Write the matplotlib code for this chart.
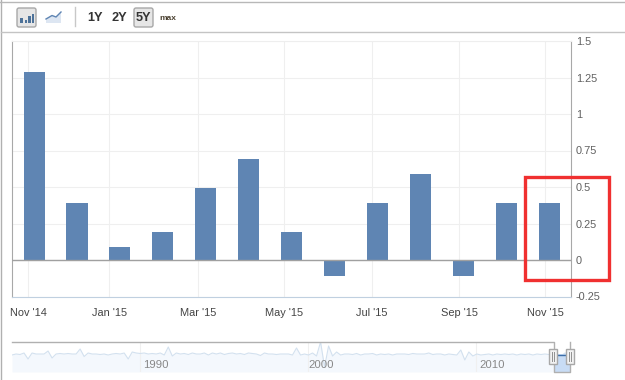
import matplotlib
matplotlib.use("Agg")
import matplotlib.pyplot as plt
from matplotlib.patches import Rectangle, FancyBboxPatch, Polygon
import numpy as np

plt.rcParams['font.family'] = ['Liberation Sans', 'DejaVu Sans']

W, H = 625, 380

# monthly change, Nov '14 to Nov '15
values = [1.29, 0.39, 0.09, 0.19, 0.49, 0.69, 0.19, -0.11, 0.39, 0.59, -0.11, 0.39, 0.39]
y_ticks = [-0.25, 0, 0.25, 0.5, 0.75, 1, 1.25, 1.5]
y_labels = ['-0.25', '0', '0.25', '0.5', '0.75', '1', '1.25', '1.5']
x_tick_pos = [-0.14, 1.75, 3.82, 5.82, 7.87, 9.9, 11.9]
x_labels = ["Nov '14", "Jan '15", "Mar '15", "May '15", "Jul '15", "Sep '15", "Nov '15"]

# navigator series, read by eye, one point every few pixels
nav_values = [0.2, 0.3, 0.25, 0.4, -0.2, 0.4, 0.3, 0.3, 0.3, 0.6, -0.1, 0.3, 0.35, 0.3, 0.35, 0.3,
              0.3, 0.8, 0.05, 0.4, 0.3, 0.3, 0.25, 0.3, 0.2, 0.3, 0.35, 0.3, 0.4, -0.2, 0.5, 0.4,
              0.35, 0.4, 0.3, 0.35, 0.3, 0.4, 0.2, 1.0, 0.1, 0.4, 0.3, 0.35, 0.25, 0.4, 0.3, 0.3,
              0.4, 0.2, 0.4, 0.3, 0.4, 0.25, 0.35, 0.4, 0.3, 0.35, 0.25, 0.4, 0.35, 0.3, 0.15, 0.4,
              0.3, 0.3, 0.25, 0.3, 0.3, 0.3, 0.2, 0.9, 0.2, 0.3, 0.2, 0.4, 0.1, 1.5, -1.0, 1.1,
              0.1, 0.5, 0.2, 0.3, 0.3, 0.25, 0.35, 0.2, 0.3, 0.3, 0.35, 0.2, 0.3, 0.25, 0.3, 0.2,
              0.3, 0.3, 0.3, 0.25, 0.35, 0.3, 0.3, 0.3, 0.4, 0.25, 0.3, 0.3, 0.2, 0.3, 0.25, 0.2,
              0.7, -0.3, 0.5, 0.1, 0.3, 0.2, 0.25, 0.3, 0.2, 0.3, 0.25, 0.3, 0.25, 0.3, 0.2, 0.3,
              0.25, 0.3, 0.2, 0.3, 0.25, 0.3, 0.25, 0.3, 0.3, 0.1, 0.4, 0.3]
nav_start, nav_end = 1982.4, 2015.5
nav_ticks = [1990, 2000, 2010]

fig = plt.figure(figsize=(W / 100, H / 100), dpi=100, facecolor='white')


def box(x0, y0, x1, y1):
    # pixel box, measured from the top left, to figure fractions
    return [x0 / W, 1 - y1 / H, (x1 - x0) / W, (y1 - y0) / H]


# main chart
ax = fig.add_axes(box(11.5, 41, 571, 296.5))
ax.set_xlim(-0.525, 12.5)
ax.set_ylim(-0.25, 1.5)
ax.bar(range(len(values)), values, width=0.49, color='#5f85b3', zorder=3)
ax.axhline(0, color='#a0a0a0', lw=1, zorder=4)
ax.set_yticks(y_ticks)
ax.set_yticklabels(y_labels)
ax.set_xticks(x_tick_pos)
ax.set_xticklabels(x_labels)
ax.yaxis.tick_right()
ax.grid(True, color='#efefef', lw=0.8, zorder=0)
ax.tick_params(axis='y', length=0, pad=3.5, labelsize=7.9, labelcolor='#606060')
ax.tick_params(axis='x', length=0, pad=8, labelsize=7.9, labelcolor='#444444')
for s in ['left', 'right']:
    ax.spines[s].set_color('#a8a8a8')
ax.spines['top'].set_color('#eeeeee')
ax.spines['bottom'].set_color('#c0d0e0')

# navigator
nav = fig.add_axes(box(12, 342, 569, 372))
nav_x = np.linspace(nav_start, nav_end, len(nav_values))
nav.fill_between(nav_x, -1.5, nav_values, color='#f4f8fd', lw=0)
nav.plot(nav_x, nav_values, color='#d3e1ef', lw=0.8)
nav.set_xlim(nav_start, nav_end)
nav.set_ylim(-1.5, 1.5)
nav.set_yticks([])
nav.set_xticks(nav_ticks)
nav.set_xticklabels([])
nav.grid(True, axis='x', color='#f0f0f0', lw=0.8)
nav.tick_params(length=0)
for s in nav.spines.values():
    s.set_visible(False)
for t, dx in zip(nav_ticks, [11.5, 9.5, 11.5]):
    nav.annotate(str(t), (t, 0), xycoords=('data', 'axes fraction'), xytext=(dx, 1.5),
                 textcoords='offset points', ha='center', va='bottom', fontsize=8.2, color='#888888')

# page furniture, in pixels
ov = fig.add_axes([0, 0, 1, 1], zorder=10)
ov.set_xlim(0, W)
ov.set_ylim(H, 0)
ov.axis('off')
ov.patch.set_alpha(0)

ov.plot([1, 1], [0, H], color='#b0b0b0', lw=1)
ov.plot([0, W], [1.5, 1.5], color='#b8b8b8', lw=1)
ov.plot([1, W], [31.5, 31.5], color='#c4c4c4', lw=1)
ov.plot([74.5, 74.5], [7, 26], color='#c8c8c8', lw=1)

for x0, x1 in [(17, 36), (134, 153)]:
    ov.add_patch(FancyBboxPatch((x0, 8), x1 - x0, 19, boxstyle='round,pad=0,rounding_size=2',
                                fc='#e6e6e6', ec='#a8a8a8', lw=1))
for x, top in [(20, 18), (24.5, 20), (28, 16), (31.5, 14)]:
    ov.add_patch(Rectangle((x, top), 2.8, 23 - top, fc='#4d7299', lw=0))
ov.add_patch(Polygon([(46, 23), (46, 19), (52, 15.5), (56, 17), (61, 12), (61, 23)], fc='#dde6f2', lw=0))
ov.plot([46, 52, 56, 61], [19, 15.5, 17, 12], color='#5f85b3', lw=1)

for x, s in [(95, '1Y'), (119.5, '2Y'), (143.5, '5Y')]:
    ov.text(x, 18, s, ha='center', va='center', fontsize=9.2, fontweight='bold', color='#333333')
ov.text(167.5, 18.5, 'max', ha='center', va='center', fontsize=6, fontweight='bold', color='#4a4030')

# red highlight
ov.add_patch(Rectangle((525, 177), 84, 103, fc='none', ec='#f03030', lw=2.4))

# navigator selection and handles
ov.add_patch(Rectangle((553.5, 354), 16, 18, fc='#c8dcf5', lw=0, zorder=2))
ov.plot([554, 569.5], [354.5, 354.5], color='#3d6ea8', lw=1, zorder=3)
ov.plot([12, 553.5, 553.5, 569.5, 569.5], [342, 342, 372, 372, 342], color='#b0b0b0', lw=1, zorder=3)
for x in [552.5, 569.5]:
    ov.add_patch(Rectangle((x - 4, 349), 8, 15, fc='#f2f2f2', ec='#a8a8a8', lw=1, zorder=4))
    ov.plot([x - 1, x - 1], [352, 361], color='#909090', lw=0.7, zorder=5)
    ov.plot([x + 1, x + 1], [352, 361], color='#909090', lw=0.7, zorder=5)

fig.savefig('out.png', dpi=100)
